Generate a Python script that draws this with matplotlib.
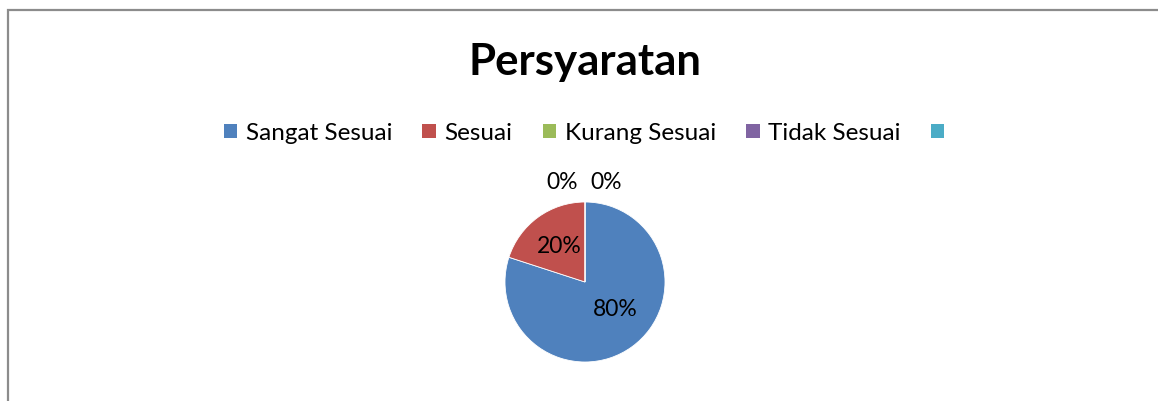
import matplotlib
matplotlib.use('Agg')

import matplotlib.pyplot as plt
from matplotlib.patches import Patch, Rectangle

# chart data
categories = ['Sangat Sesuai', 'Sesuai', 'Kurang Sesuai', 'Tidak Sesuai', '']
values = [80, 20, 0, 0]
colors = ['#4F81BD', '#C0504D', '#9BBB59', '#8064A2', '#4BACC6']
title = 'Persyaratan'

plt.rcParams['font.family'] = ['Lato', 'DejaVu Sans']

fig = plt.figure(figsize=(11.58, 4.01), dpi=100)

# chart area border (only top and left edges are visible)
fig.add_artist(Rectangle((8 / 1158, -0.2), 1.2, 1.2 + (1 - 10 / 401) - 1,
                         transform=fig.transFigure, fill=False,
                         edgecolor='#8c8c8c', linewidth=1.6))

fig.text(0.505, 0.845, title, ha='center', va='center',
         fontsize=31.5, fontweight='bold')

# pie placed with center at (585, 282) px and radius 80 px
cx, cy, r = 585 / 1158, 1 - 282 / 401, 80
ax = fig.add_axes([cx - r / 1158, cy - r / 401, 2 * r / 1158, 2 * r / 401])
wedges, texts, autotexts = ax.pie(
    values, colors=colors[:len(values)], startangle=90, counterclock=False,
    autopct='%d%%', pctdistance=0.55,
    wedgeprops=dict(edgecolor='white', linewidth=0.6),
    textprops=dict(fontsize=16.5, color='black'))
ax.set_xlim(-1, 1)
ax.set_ylim(-1, 1)
ax.set_aspect('equal')

# zero-value labels sit above the pie, side by side
zero_idx = [i for i, v in enumerate(values) if v == 0]
for k, i in enumerate(zero_idx):
    autotexts[i].set_position((-0.28 + 0.55 * k, 1.25))
# the large slice label sits slightly toward the right
autotexts[0].set_position((0.38, -0.34))

handles = [Patch(facecolor=c, edgecolor='none') for c in colors]
fig.legend(handles, categories, loc='center', bbox_to_anchor=(0.508, 0.668),
           ncol=5, frameon=False, fontsize=17.5, handlelength=0.55,
           handleheight=0.55, handletextpad=0.35, columnspacing=1.25)

fig.savefig('out.png', dpi=100, facecolor='white')
plt.close(fig)
